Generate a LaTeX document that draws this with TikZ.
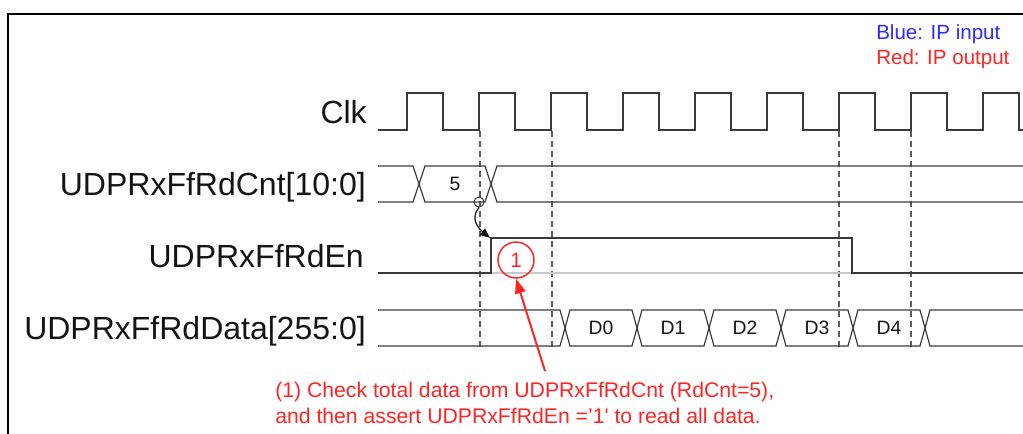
\documentclass[tikz,border=0pt]{standalone}
\usepackage{fontspec}
\setmainfont{Liberation Sans}
\usetikzlibrary{arrows.meta}
\definecolor{ink}{HTML}{141414}
\definecolor{wave}{HTML}{3A3A3A}
\definecolor{guideline}{HTML}{5C5C5C}
\definecolor{ghost}{HTML}{C8C8C8}
\definecolor{notered}{HTML}{FF2424}
\definecolor{inblue}{HTML}{2B2BFF}
\newcommand{\signamefont}{\fontsize{24}{28}\selectfont}
\newcommand{\valuefont}{\fontsize{14.5}{17}\selectfont}
\newcommand{\notefont}{\fontsize{15.9}{19}\selectfont}
\tikzset{
 every node/.append style={text=ink,inner sep=0pt},
 signame/.style={font=\signamefont,anchor=base east},
 legend/.style={font=\fontsize{15.4}{18}\selectfont,anchor=base west},
 val/.style={font=\valuefont},
 note/.style={font=\notefont,text=notered,anchor=base west},
 clkwave/.style={draw=wave,line width=1.6pt,line join=miter},
 buswave/.style={draw=wave,line width=.9pt},
 ghostwave/.style={draw=ghost,line width=1.1pt},
 guide/.style={draw=guideline,line width=.9pt,dash pattern=on 4.5pt off 3pt},
 frame/.style={draw=black,line width=1.6pt},
 tag/.style={circle,draw=notered,line width=1.1pt,minimum size=27pt,font=\fontsize{15.5}{18}\selectfont,text=notered},
 dotmark/.style={circle,draw=wave,line width=.8pt,minimum size=7.5pt},
 cause/.style={-{Triangle[length=7.5pt,width=6pt]},draw=ink,line width=.9pt},
 callout/.style={-{Triangle[length=11pt,width=8pt]},draw=notered,line width=1.5pt},
}

\begin{document}
\begin{tikzpicture}[x=0.75pt,y=-0.75pt]
\useasboundingbox (0,0) rectangle (1023,433);

% frame and legend
\draw[frame] (8,450) -- (8,14) -- (1040,14);
\node[legend,text=inblue] (legin) at (876,39) {Blue: IP input};
\node[legend,text=notered] (legout) at (876,64) {Red: IP output};

% signal names
\node[signame] (lblclk) at (367,123) {Clk};
\node[signame] (lblcnt) at (366,195) {UDPRxFfRdCnt[10:0]};
\node[signame] (lblen) at (364,267) {UDPRxFfRdEn};
\node[signame] (lbldata) at (366,339) {UDPRxFfRdData[255:0]};

% sampling edges
\foreach \x in {480,552,839,911}
  \draw[guide] (\x,131) -- (\x,348);

% clock
\draw[clkwave] (378,130) \foreach \i in {0,...,8}{
  -- ({407+72*\i},130) -- ++(0,-37) -- ++(36,0) -- ++(0,37)} -- (1030,130);

% read count bus
\draw[buswave] (378,166) \foreach \x in {419,491}{
  -- (\x-6,166) -- (\x,184) -- (\x+6,166)} -- (1030,166);
\draw[buswave] (378,202) \foreach \x in {419,491}{
  -- (\x-6,202) -- (\x,184) -- (\x+6,202)} -- (1030,202);
\node[val] (cnt5) at (455,184) {5};

% read enable
\draw[ghostwave] (492,273) -- (852,273);
\draw[buswave] (378,273) -- (491,273) -- (491,238) -- (852,238) -- (852,273) -- (1030,273);

% read data bus
\draw[buswave] (378,310) \foreach \x in {565,637,709,781,853,925}{
  -- (\x-5,310) -- (\x,328) -- (\x+5,310)} -- (1030,310);
\draw[buswave] (378,346) \foreach \x in {565,637,709,781,853,925}{
  -- (\x-5,346) -- (\x,328) -- (\x+5,346)} -- (1030,346);
\foreach \i/\x in {0/601,1/673,2/745,3/817,4/889}
  \node[val] (d\i) at (\x,328) {D\i};

% count -> enable
\node[dotmark] (cntmark) at (479,202) {};
\coordinate (enrise) at (490,238);
\draw[cause] (cntmark.south) .. controls (470,218) and (478,228) .. (enrise);

% note
\node[tag] (tag1) at (516,260) {1};
\node[note] (note1) at (275,397) {(1) Check total data from UDPRxFfRdCnt (RdCnt=5),};
\node[note] (note2) at (275,423) {and then assert UDPRxFfRdEn =’1\textquotesingle{} to read all data.};
\coordinate (notetail) at (545,371);
\draw[callout] (notetail) -- (tag1.south);

\end{tikzpicture}
\end{document}
